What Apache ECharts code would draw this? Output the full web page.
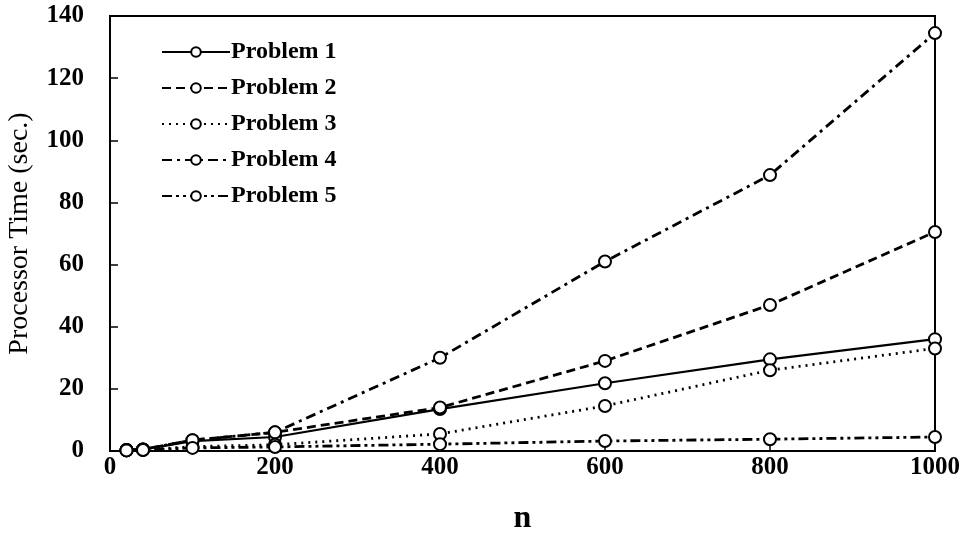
<!DOCTYPE html>
<html>
<head>
<meta charset="utf-8">
<script src="https://cdn.jsdelivr.net/npm/echarts@6/dist/echarts.min.js"></script>
<style>
  html, body { margin: 0; padding: 0; background: #fff; }
  #chart { width: 968px; height: 546px; }
</style>
</head>
<body>
<div id="chart"></div>
<script>
// problem size n
const nValues = [20, 40, 100, 200, 400, 600, 800, 1000];
// processor time (sec.)
const problem1 = [0.3, 0.5, 3.2, 4.5, 13.5, 21.8, 29.5, 36];
const problem2 = [0.3, 0.5, 3.5, 6, 14, 29, 47, 70.5];
const problem3 = [0.2, 0.4, 1.4, 2, 5.5, 14.5, 26, 33];
const problem4 = [0.3, 0.5, 3.5, 6, 30, 61, 88.8, 134.5];
const problem5 = [0.2, 0.3, 1, 1.3, 2.2, 3.2, 3.8, 4.5];

const seriesNames = ["Problem 1", "Problem 2", "Problem 3", "Problem 4", "Problem 5"];
const seriesValues = [problem1, problem2, problem3, problem4, problem5];
const dashTypes = ["solid", [9, 5], [2, 5], [10, 5, 3, 5], [10, 4, 3, 4, 3, 4]];

const FONT = "Liberation Serif";

const chart = echarts.init(document.getElementById("chart"), null, { renderer: "canvas" });

const series = seriesNames.map((name, i) => ({
  name,
  type: "line",
  data: nValues.map((n, j) => [n, seriesValues[i][j]]),
  symbol: "circle",
  symbolSize: 12,
  showAllSymbol: true,
  itemStyle: { color: "#fff", borderColor: "#000", borderWidth: 2 },
  lineStyle: { color: "#000", width: i === 0 ? 2.2 : 2.8, type: dashTypes[i] },
  z: 2,
}));

chart.setOption({
  animation: false,
  backgroundColor: "#fff",
  grid: {
    left: 110, right: 33, top: 16, bottom: 95,
    outerBoundsMode: "none",
    show: true, borderColor: "#000", borderWidth: 2,
  },
  legend: {
    orient: "vertical",
    left: 156,
    top: 35,
    itemWidth: 68,
    itemHeight: 12,
    itemGap: 12,
    data: seriesNames,
    textStyle: { fontFamily: FONT, fontSize: 24, fontWeight: "bold", color: "#000", padding: [0, 0, 0, -4] },
  },
  xAxis: {
    type: "value",
    min: 0,
    max: 1000,
    interval: 200,
    name: "n",
    nameLocation: "middle",
    nameGap: 52,
    nameTextStyle: { fontFamily: FONT, fontSize: 32, fontWeight: "bold", color: "#000" },
    axisLine: { lineStyle: { color: "#000", width: 2 } },
    axisTick: { inside: true, length: 7, lineStyle: { color: "#000", width: 1.5 } },
    axisLabel: { fontFamily: FONT, fontSize: 25, fontWeight: "bold", color: "#000", margin: 4, formatter: (v) => String(v) },
    splitLine: { show: false },
  },
  yAxis: {
    type: "value",
    min: 0,
    max: 140,
    interval: 20,
    name: "Processor Time (sec.)",
    nameLocation: "middle",
    nameGap: 76,
    nameTextStyle: { fontFamily: FONT, fontSize: 28, color: "#000" },
    axisLine: { lineStyle: { color: "#000", width: 2 } },
    axisTick: { inside: true, length: 8, lineStyle: { color: "#000", width: 1.5 } },
    axisLabel: { fontFamily: FONT, fontSize: 25, fontWeight: "bold", color: "#000", margin: 26, formatter: (v) => String(v) },
    splitLine: { show: false },
  },
  series,
});
</script>
</body>
</html>
